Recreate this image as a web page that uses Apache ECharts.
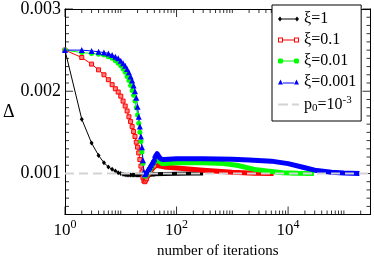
<!DOCTYPE html>
<html>
<head>
<meta charset="utf-8">
<script src="https://cdn.jsdelivr.net/npm/echarts@6/dist/echarts.min.js"></script>
<style>html,body{margin:0;padding:0;background:#fff;}#c{width:374px;height:264px;}</style>
</head>
<body>
<div id="c"></div>
<script>
// ---- data ----
const iterEarly = [1,2,3,4,5,6,7,8,9,10,11,12,13,14,15,16,17,18,19,20,21,22,23,24,25,26,27,28,29,30,31,32,33,34,35,36,37,38,39,40];

const xi1Early = [0.00250,0.00166,0.00137,0.00122,0.00113,0.00108,0.00105,0.00103,0.00101,0.00100,
  0.00099,0.000985,0.000982,0.00098,0.00098,0.00098,0.00098,0.00098,0.00098,0.00098,
  0.00098,0.00098,0.00098,0.00098,0.00098,0.000982,0.000982,0.000983,0.000984,0.000985,
  0.000986,0.000987,0.000988,0.000988,0.000989,0.00099,0.00099,0.00099,0.000991,0.000992];
const xi1TailIter = [40,60,100,200,300];
const xi1Tail = [0.000992,0.000995,0.000998,0.001,0.001];

const xi01Early = [0.00250,0.00241,0.00233,0.00226,0.00220,0.00214,0.00208,0.00203,0.00199,0.00194,
  0.00188,0.00182,0.00176,0.00169,0.00163,0.00157,0.00151,0.00145,0.00138,0.00132,
  0.00125,0.00117,0.00109,0.00102,0.00095,0.00091,0.00090,0.00092,0.00094,0.00097,
  0.00099,0.00101,0.00103,0.00104,0.00105,0.00106,0.00107,0.00108,0.00109,0.00109];
const xi01TailIter = [40,45,50,60,100,300,1000,2500,5500];
const xi01Tail = [0.00109,0.00110,0.00109,0.00108,0.001068,0.00104,0.001015,0.001003,0.001];

const xi001Early = [0.00250,0.00247,0.00246,0.00245,0.00244,0.00242,0.00240,0.00237,0.00234,0.00231,
  0.00227,0.00223,0.00218,0.00213,0.00207,0.00201,0.00195,0.00188,0.00180,0.00171,
  0.00161,0.00150,0.00139,0.00126,0.00112,0.00100,0.00097,0.00097,0.00098,0.00100,
  0.00101,0.00103,0.00104,0.00106,0.00107,0.00109,0.00110,0.00112,0.00113,0.00114];
const xi001TailIter = [40,42,44,45,46,48,50,55,60,100,300,700,1200,2500,5000,8000,15000,29000];
const xi001Tail = [0.00114,0.00116,0.00117,0.00118,0.00117,0.00115,0.00113,0.00112,0.00112,0.00113,0.00113,0.00112,0.00110,0.00105,0.001025,0.00101,0.001003,0.001];

const xi0001Early = [0.00250,0.00250,0.00249,0.00248,0.00247,0.00246,0.00244,0.00242,0.00240,0.00237,
  0.00234,0.00231,0.00227,0.00223,0.00218,0.00213,0.00207,0.00200,0.00192,0.00181,
  0.00169,0.00157,0.00145,0.00132,0.00116,0.00102,0.00099,0.00100,0.00102,0.00104,
  0.00105,0.00107,0.00108,0.00110,0.00111,0.00113,0.00114,0.00115,0.00117,0.00118];
const xi0001TailIter = [40,42,44,45,46,48,50,52,55,60,100,300,1000,2000,5000,10000,20000,30000,60000,100000,190000];
const xi0001Tail = [0.00118,0.00121,0.00123,0.00124,0.00124,0.00122,0.00119,0.00117,0.00117,0.00117,0.00118,0.00118,0.001172,0.001163,0.00115,0.00112,0.00107,0.00104,0.001015,0.001005,0.001];

const p0Iter = [1, 300000];
const p0Value = [0.001, 0.001];

// ---- axis ranges and ticks ----
const xRange = [1, 300000];
const yRange = [0.0005, 0.003];
const xMajorTicks = [1, 100, 10000];
const xMinorTicks = [2,3,4,5,6,7,8,9,10,20,30,40,50,60,70,80,90,200,300,400,500,600,700,800,900,1000,
  2000,3000,4000,5000,6000,7000,8000,9000,20000,30000,40000,50000,60000,70000,80000,90000,100000,200000];
const yMajorTicks = [0.001, 0.002, 0.003];
const yMinorTicks = [0.0006,0.0007,0.0008,0.0009,0.0011,0.0012,0.0013,0.0014,0.0015,0.0016,0.0017,0.0018,0.0019,
  0.0021,0.0022,0.0023,0.0024,0.0025,0.0026,0.0027,0.0028,0.0029];

const FONT = "'Liberation Serif', 'Times New Roman', serif";
const pairs = (xs, ys) => xs.map((x, i) => [x, ys[i]]);

const xAxisCfg = (pos, labels) => ({
  type: 'log', logBase: 10, min: xRange[0], max: xRange[1], position: pos, gridIndex: 0,
  axisLine: { show: true, onZero: false, lineStyle: { color: '#000', width: 1 } },
  axisTick: { show: false },
  axisLabel: labels ? {
    show: true, customValues: xMajorTicks, margin: 4, color: '#000', fontFamily: FONT, fontSize: 17,
    formatter: v => '10{sup|' + Math.round(Math.log10(v)) + '}',
    rich: { sup: { fontSize: 12, fontFamily: FONT, color: '#000', padding: [0, 0, 12, 0] } }
  } : { show: false },
  splitLine: { show: false }, minorTick: { show: false }, minorSplitLine: { show: false }
});
const yAxisCfg = (pos, labels) => ({
  type: 'value', min: yRange[0], max: yRange[1], position: pos, gridIndex: 0,
  axisLine: { show: true, onZero: false, lineStyle: { color: '#000', width: 1 } },
  axisTick: { show: false },
  axisLabel: labels ? { show: true, customValues: yMajorTicks, margin: 4, color: '#000', fontFamily: FONT, fontSize: 18,
    formatter: v => v.toFixed(3) } : { show: false },
  splitLine: { show: false }, minorTick: { show: false }
});

const xMain = xAxisCfg('bottom', true);
xMain.name = 'number of iterations';
xMain.nameLocation = 'middle';
xMain.nameGap = 28;
xMain.nameTextStyle = { fontFamily: FONT, fontSize: 15, color: '#000' };

const yMain = yAxisCfg('left', true);
yMain.name = 'Δ';
yMain.nameLocation = 'middle';
yMain.nameRotate = 0;
yMain.nameGap = 49;
yMain.nameTextStyle = { fontFamily: FONT, fontSize: 18, color: '#000' };

// tick marks drawn inside the frame, positioned by the axes' own scales
const tickSeries = (data, size, offset) => ({
  type: 'scatter', data, symbol: 'rect', symbolSize: size, symbolOffset: offset,
  itemStyle: { color: '#000' }, silent: true, clip: false, z: 1, animation: false,
  xAxisIndex: 0, yAxisIndex: 0
});

const early = (name, ys, color, symbol, size, itemStyle) => ({
  name, type: 'line', data: pairs(iterEarly, ys), symbol, symbolSize: size,
  lineStyle: { color, width: 1 }, itemStyle: itemStyle || { color }, animation: false, z: 2
});
const tail = (name, xs, ys, color, width) => ({
  name, type: 'line', data: pairs(xs, ys), symbol: 'none',
  lineStyle: { color, width, cap: 'butt', join: 'round' }, itemStyle: { color }, animation: false, z: 2
});

const option = {
  animation: false,
  backgroundColor: '#fff',
  grid: { left: 62, right: 3.5, top: 7, bottom: 40 },
  xAxis: [xMain, xAxisCfg('top', false)],
  yAxis: [yMain, yAxisCfg('right', false)],
  legend: {
    orient: 'vertical', left: 272, top: 5, padding: [6, 5, 7, 6], itemGap: 5,
    itemWidth: 21, itemHeight: 5,
    backgroundColor: '#fff', borderColor: '#000', borderWidth: 1, borderRadius: 0,
    textStyle: { fontFamily: FONT, fontSize: 16, color: '#000',
      rich: { sub: { fontFamily: FONT, fontSize: 11, color: '#000', padding: [8, 0, 0, 0] },
              sup: { fontFamily: FONT, fontSize: 11, color: '#000', padding: [0, 0, 8, 0] } } },
    formatter: n => n === 'p0' ? 'p{sub|0}=10{sup|-3}' : n,
    data: [
      { name: 'ξ=1', icon: 'path://M0,2.5L2,0L4,2.5L2,5Z M17,2.5L19,0L21,2.5L19,5Z M3,2H18V3H3Z', itemStyle: { color: '#000', borderWidth: 0 } },
      { name: 'ξ=0.1', icon: 'path://M0,0H5V5H0Z M1,1V4H4V1Z M16,0H21V5H16Z M17,1V4H20V1Z M5,2H16V3H5Z', itemStyle: { color: '#ff0000', borderWidth: 0 } },
      { name: 'ξ=0.01', icon: 'path://M1,0H4L5,1V4L4,5H1L0,4V1Z M17,0H20L21,1V4L20,5H17L16,4V1Z M5,2H16V3H5Z', itemStyle: { color: '#00ff00', borderWidth: 0 } },
      { name: 'ξ=0.001', icon: 'path://M0,5L2.5,0L5,5Z M16,5L18.5,0L21,5Z M5,3H16V4H5Z', itemStyle: { color: '#0000ff', borderWidth: 0 } },
      { name: 'p0', icon: 'path://M0,0H10V2H0Z M14,0H21V2H14Z', itemStyle: { color: '#d3d3d3', borderWidth: 0 } }
    ]
  },
  series: [
    tickSeries(xMinorTicks.map(v => [v, yRange[0]]), [1, 4], [0, -2]),
    tickSeries(xMajorTicks.map(v => [v, yRange[0]]), [1, 8], [0, -4]),
    tickSeries(xMinorTicks.map(v => [v, yRange[1]]), [1, 4], [0, 2]),
    tickSeries(xMajorTicks.map(v => [v, yRange[1]]), [1, 8], [0, 4]),
    tickSeries(yMinorTicks.map(v => [xRange[0], v]), [4, 1], [2, 0]),
    tickSeries(yMajorTicks.map(v => [xRange[0], v]), [8, 1], [4, 0]),
    tickSeries(yMinorTicks.map(v => [xRange[1], v]), [4, 1], [-2, 0]),
    tickSeries(yMajorTicks.map(v => [xRange[1], v]), [8, 1], [-4, 0]),
    early('ξ=1', xi1Early, '#000000', 'diamond', [4, 5]),
    tail('ξ=1', xi1TailIter, xi1Tail, '#000000', 4),
    early('ξ=0.1', xi01Early, '#ff0000', 'rect', 4, { color: '#ff8080', borderColor: '#ff0000', borderWidth: 1 }),
    tail('ξ=0.1', xi01TailIter, xi01Tail, '#ff0000', 5),
    early('ξ=0.01', xi001Early, '#00ff00', 'circle', 5),
    tail('ξ=0.01', xi001TailIter, xi001Tail, '#00ff00', 5),
    early('ξ=0.001', xi0001Early, '#0000ff', 'triangle', 6),
    tail('ξ=0.001', xi0001TailIter, xi0001Tail, '#0000ff', 5),
    { name: 'p0', type: 'line', data: pairs(p0Iter, p0Value), symbol: 'none',
      lineStyle: { color: '#d3d3d3', width: 2, type: [9, 5] }, itemStyle: { color: '#d3d3d3' }, z: 5, animation: false }
  ]
};

const chart = echarts.init(document.getElementById('c'), null, { renderer: 'canvas' });
chart.setOption(option);
</script>
</body>
</html>
